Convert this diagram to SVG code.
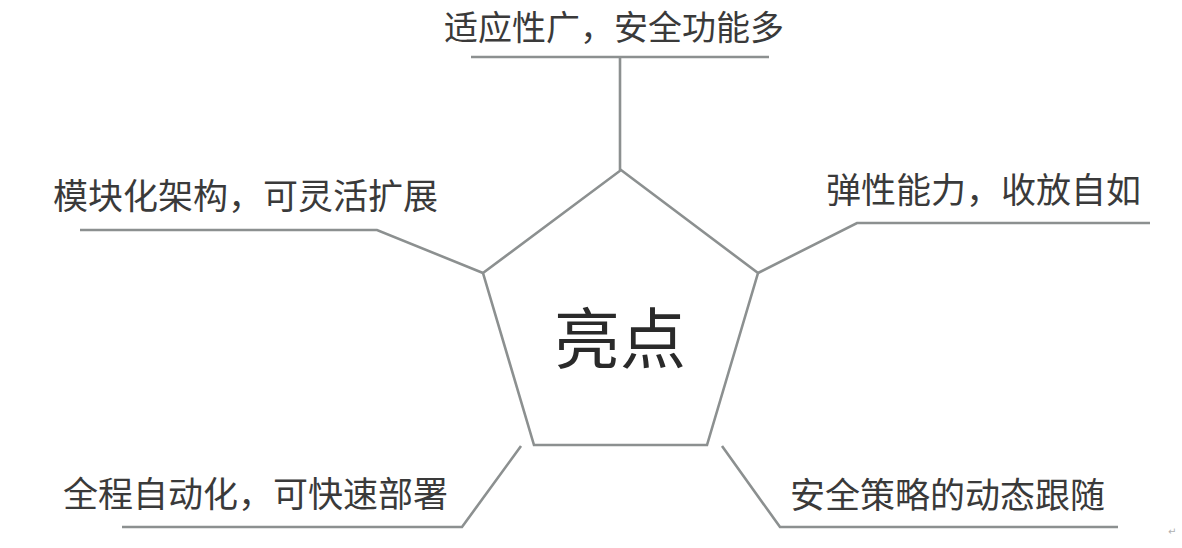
<svg xmlns="http://www.w3.org/2000/svg" width="1182" height="548" viewBox="0 0 1182 548">
<style>
.ln{fill:none;stroke:#8c9090;stroke-width:2.6;stroke-linejoin:miter;stroke-linecap:butt}
.lbl{font-family:"Noto Sans CJK SC","Noto Sans",sans-serif;font-size:35px;fill:#3a3a3a}
.ctr{font-family:"Noto Sans CJK SC","Noto Sans",sans-serif;font-size:66px;fill:#2a2a2a;text-anchor:middle}
</style>
<rect width="1182" height="548" fill="#ffffff"/>
<g id="connectors">
<polyline class="ln" points="620,170 620,57"/>
<line class="ln" x1="471" y1="57" x2="769" y2="57"/>
<polyline class="ln" points="483,273 377,230 80,230"/>
<polyline class="ln" points="758,273 857,223 1150,223"/>
<polyline class="ln" points="521,446 462,527 122,527"/>
<polyline class="ln" points="722,446 780,527 1118,527"/>
</g>
<g id="center">
<polygon class="ln" points="621,170 758,273 707,445 534,445 483,273"/>
<text class="ctr" x="620" y="363">亮点</text>
</g>
<g id="top"><text class="lbl" x="444" y="40" style="font-size:34px">适应性广，安全功能多</text></g>
<g id="left"><text class="lbl" x="53" y="209">模块化架构，可灵活扩展</text></g>
<g id="right"><text class="lbl" x="826" y="203">弹性能力，收放自如</text></g>
<g id="bottom-left"><text class="lbl" x="63" y="507">全程自动化，可快速部署</text></g>
<g id="bottom-right"><text class="lbl" x="790" y="508">安全策略的动态跟随</text></g>
<text x="1168" y="535" font-family="DejaVu Sans,sans-serif" font-size="10" fill="#b0b0b0">↵</text>
</svg>
